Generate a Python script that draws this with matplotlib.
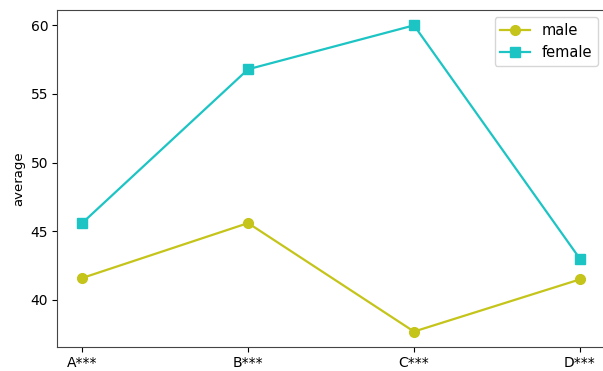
import matplotlib.pyplot as plt

groups = ["A***", "B***", "C***", "D***"]
male = [41.6, 45.6, 37.7, 41.5]
female = [45.6, 56.8, 60.0, 43.0]

fig = plt.figure(figsize=(6.03, 3.71), dpi=100)
ax = fig.add_axes([0.095, 0.065, 0.908, 0.908])

ax.plot(groups, male, color="#c4c41a", marker="o", markersize=7, linewidth=1.6, label="male")
ax.plot(groups, female, color="#1cc4c4", marker="s", markersize=6.5, linewidth=1.6, label="female")

ax.set_ylabel("average", fontsize=9.5)
ax.set_yticks([40, 45, 50, 55, 60])
ax.tick_params(labelsize=10, length=3.5, pad=3)
for s in ax.spines.values():
    s.set_color("#444444")
ax.legend(loc="upper right", fontsize=10.5)

fig.savefig("out.png", dpi=100)
